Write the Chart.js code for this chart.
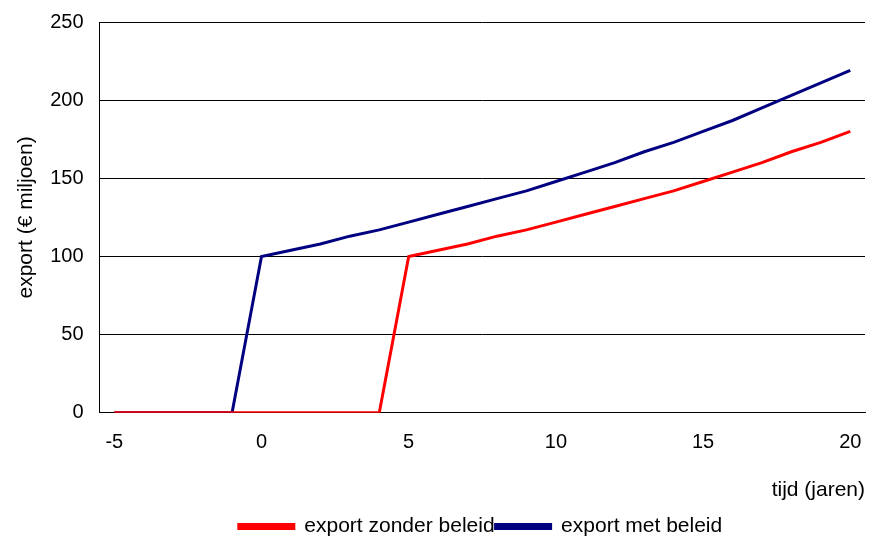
<!DOCTYPE html>
<html>
<head>
<meta charset="utf-8">
<script src="https://cdn.jsdelivr.net/npm/chart.js@4"></script>
<style>
  body { margin: 0; background: #fff; }
  #wrap { width: 875px; height: 542px; }
</style>
</head>
<body>
<div id="wrap"><canvas id="exportChart"></canvas></div>
<script>
const years = [-5, -4, -3, -2, -1, 0, 1, 2, 3, 4, 5, 6, 7, 8, 9, 10, 11, 12, 13, 14, 15, 16, 17, 18, 19, 20];
const zonderBeleid = [0, 0, 0, 0, 0, 0, 0, 0, 0, 0, 100, 104, 108, 113, 117, 122, 127, 132, 137, 142, 148, 154, 160, 167, 173, 180];
const metBeleid = [0, 0, 0, 0, 0, 100, 104, 108, 113, 117, 122, 127, 132, 137, 142, 148, 154, 160, 167, 173, 180, 187, 195, 203, 211, 219];
const yTicks = [0, 50, 100, 150, 200, 250];

Chart.defaults.font.family = "'Liberation Sans', Arial, sans-serif";
Chart.defaults.color = '#000';

// legend sits a bit right of centre in the original
const shiftLegend = {
    id: 'shiftLegend',
    afterLayout(chart) {
        chart.legend.left += 43;
        chart.legend.right += 43;
        chart.legend.top += 5;
        chart.legend.bottom += 5;
    }
};

const ctx = document.getElementById('exportChart').getContext('2d');
new Chart(ctx, {
    type: 'line',
    data: {
        labels: years,
        datasets: [{
            label: 'export zonder beleid',
            data: zonderBeleid,
            borderColor: '#ff0000',
            backgroundColor: '#ff0000',
            borderWidth: 3,
            pointRadius: 0,
            fill: false
        }, {
            label: 'export met beleid',
            data: metBeleid,
            borderColor: '#000080',
            backgroundColor: '#000080',
            borderWidth: 3,
            pointRadius: 0,
            fill: false
        }]
    },
    options: {
        responsive: true,
        maintainAspectRatio: false,
        animation: false,
        layout: { padding: { left: 10, right: 10, top: 22, bottom: 0 } },
        plugins: {
            legend: {
                position: 'bottom',
                labels: {
                    boxWidth: 55,
                    boxHeight: 4,
                    padding: 1,
                    font: { size: 21 }
                }
            },
            tooltip: { enabled: false }
        },
        scales: {
            x: {
                offset: true,
                afterFit: axis => { axis.paddingRight = 0; },
                grid: { display: false, drawTicks: false },
                border: { color: '#000', width: 1 },
                ticks: {
                    autoSkip: false,
                    maxRotation: 0,
                    padding: 18,
                    font: { size: 20 },
                    callback: function (val, i) {
                        const y = years[i];
                        return y % 5 === 0 ? String(y) : '';
                    }
                },
                title: {
                    display: true,
                    text: 'tijd (jaren)',
                    align: 'end',
                    font: { size: 21 },
                    padding: { top: 5, bottom: 7 }
                }
            },
            y: {
                min: 0,
                max: 250,
                afterBuildTicks: axis => { axis.ticks = yTicks.map(v => ({ value: v })); },
                afterFit: axis => { axis.paddingTop = 0; },
                grid: { color: '#000', lineWidth: 1, drawTicks: false },
                border: { color: '#000', width: 1 },
                ticks: {
                    padding: 16,
                    font: { size: 20 }
                },
                title: {
                    display: true,
                    text: 'export (€ miljoen)',
                    font: { size: 21 },
                    padding: { top: 4, bottom: -5 }
                }
            }
        }
    },
    plugins: [shiftLegend]
});
</script>
</body>
</html>
